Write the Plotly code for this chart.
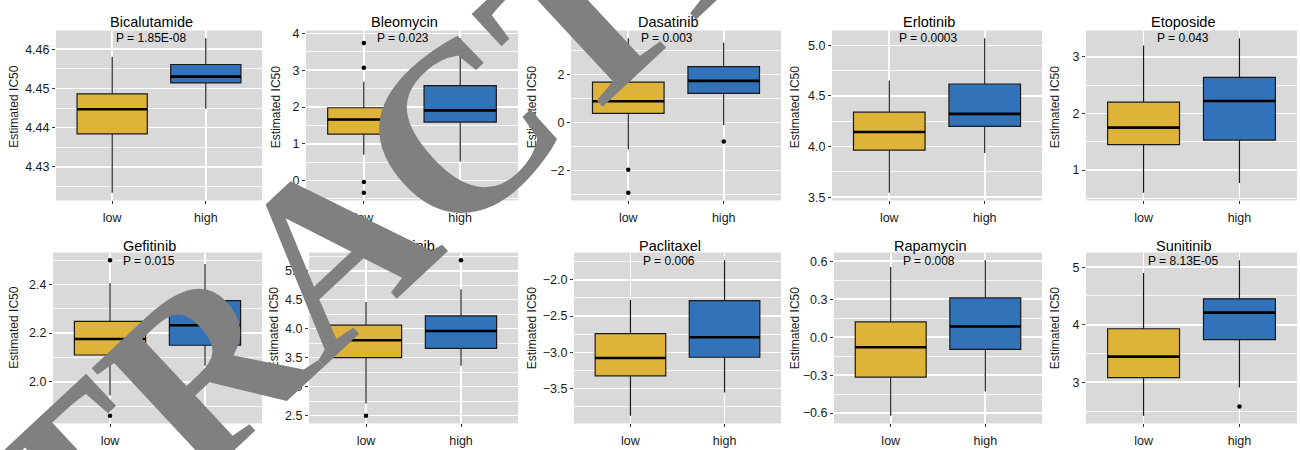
import plotly.graph_objects as go

drugs = ["Bicalutamide", "Bleomycin", "Dasatinib", "Erlotinib", "Etoposide",
         "Gefitinib", "Lapatinib", "Paclitaxel", "Rapamycin", "Sunitinib"]
p_labels = ["P = 1.85E-08", "P = 0.023", "P = 0.003", "P = 0.0003", "P = 0.043",
            "P = 0.015", "P = 0.024", "P = 0.006", "P = 0.008", "P = 8.13E-05"]
groups = ["low", "high"]

# "low" group box statistics
low_lowerfence = [4.4234, 0.70, -1.12, 3.544, 0.60, 1.945, 2.71, -3.873, -0.62, 2.42]
low_q1 = [4.4384, 1.265, 0.38, 3.965, 1.45, 2.110, 3.50, -3.324, -0.315, 3.08]
low_median = [4.4447, 1.66, 0.88, 4.144, 1.75, 2.176, 3.80, -3.077, -0.080, 3.445]
low_q3 = [4.4486, 1.98, 1.68, 4.34, 2.20, 2.248, 4.06, -2.743, 0.121, 3.93]
low_upperfence = [4.4581, 2.69, 3.50, 4.652, 3.20, 2.405, 4.46, -2.274, 0.554, 4.90]
low_outliers = [[], [3.74, 3.07, -0.04, -0.33], [-1.97, -2.92], [], [],
                [2.499, 1.861], [2.50], [], [], []]

# "high" group box statistics
high_lowerfence = [4.4448, 0.52, -0.11, 3.937, 0.77, 2.066, 3.36, -3.554, -0.43, 2.91]
high_q1 = [4.4514, 1.59, 1.21, 4.199, 1.53, 2.150, 3.66, -3.068, -0.096, 3.74]
high_median = [4.4530, 1.91, 1.73, 4.323, 2.22, 2.232, 3.96, -2.792, 0.085, 4.21]
high_q3 = [4.4561, 2.58, 2.32, 4.618, 2.64, 2.333, 4.22, -2.288, 0.31, 4.45]
high_upperfence = [4.4628, 3.87, 3.32, 5.07, 3.33, 2.484, 4.68, -1.73, 0.608, 5.12]
high_outliers = [[], [], [-0.79], [], [], [], [5.18], [], [], [2.58]]

tick_step = [0.01, 1, 2, 0.5, 1, 0.2, 0.5, 0.5, 0.3, 1]
tick_format = [".2f", "d", "d", ".1f", "d", ".1f", ".1f", ".1f", ".1f", "d"]

# ---------------- styling / layout ----------------
W, H = 1300, 450
colors = ["#DEB33A", "#3172B9"]
BOXW = 0.75
FONT = "Liberation Sans, Arial, sans-serif"

# panel pixel boxes
row_x = [[(56, 262), (306, 518), (571, 781), (832, 1042), (1086, 1297)],
         [(53, 262), (309, 518), (574, 781), (834, 1042), (1086, 1297)]]
row_y = [(27, 200), (253, 427)]
title_y = [18.3, 246]
plab_y = [35, 261.7]
ytitle_x = [[14.5, 276, 532, 795, 1055], [14.5, 274, 532, 795, 1055]]
ytitle_y = [105, 330]


def px_x(v):
    return v / W


def px_y(v):
    return 1 - v / H


fig = go.Figure()
layout = dict(
    width=W, height=H,
    margin=dict(l=0, r=0, t=0, b=0),
    paper_bgcolor="white",
    plot_bgcolor="#D9D9D9",
    showlegend=False,
    font=dict(family=FONT, color="#1a1a1a", size=12),
)
annotations = []

stats = [
    (low_lowerfence, low_q1, low_median, low_q3, low_upperfence, low_outliers),
    (high_lowerfence, high_q1, high_median, high_q3, high_upperfence, high_outliers),
]

for i, drug in enumerate(drugs):
    r, c = divmod(i, 5)
    ax = "" if i == 0 else str(i + 1)
    xa, ya = "x" + ax, "y" + ax
    allvals = []
    for g, (lf, q1, md, q3, uf, outs) in enumerate(stats):
        pos = g + 1
        allvals += [lf[i], uf[i]] + list(outs[i])
        fig.add_trace(go.Box(
            x=[pos], q1=[q1[i]], median=[md[i]], q3=[q3[i]],
            lowerfence=[lf[i]], upperfence=[uf[i]],
            width=BOXW, fillcolor=colors[g],
            line=dict(color="#1a1a1a", width=1.2),
            whiskerwidth=0, boxpoints=False,
            xaxis=xa, yaxis=ya, hoverinfo="skip",
        ))
        # thicker median line (as in ggplot2)
        fig.add_trace(go.Scatter(
            x=[pos - BOXW / 2, pos + BOXW / 2], y=[md[i], md[i]],
            mode="lines", line=dict(color="black", width=2.6),
            xaxis=xa, yaxis=ya, hoverinfo="skip",
        ))
        if outs[i]:
            fig.add_trace(go.Scatter(
                x=[pos] * len(outs[i]), y=outs[i], mode="markers",
                marker=dict(color="black", size=4.5),
                xaxis=xa, yaxis=ya, hoverinfo="skip",
            ))
    lo, hi = min(allvals), max(allvals)
    pad = (hi - lo) * 0.05
    x0, x1 = row_x[r][c]
    y0, y1 = row_y[r]
    step = tick_step[i]
    layout["xaxis" + ax] = dict(
        domain=[px_x(x0), px_x(x1)], anchor=ya, range=[0.4, 2.6],
        tickmode="array", tickvals=[1, 2], ticktext=groups,
        showgrid=True, gridcolor="white", gridwidth=1.6, zeroline=False,
        ticks="outside", ticklen=3, tickcolor="#333333", tickwidth=1,
        tickfont=dict(size=12.5, color="#1a1a1a"), ticklabelstandoff=3,
        fixedrange=True,
    )
    layout["yaxis" + ax] = dict(
        domain=[px_y(y1), px_y(y0)], anchor=xa, range=[lo - pad, hi + pad],
        tick0=0, dtick=step, tickformat=tick_format[i],
        showgrid=True, gridcolor="white", gridwidth=1.6, zeroline=False,
        ticks="outside", ticklen=3, tickcolor="#333333", tickwidth=1,
        tickfont=dict(size=12.5, color="#1a1a1a"),
        minor=dict(dtick=step / 2, tick0=0, showgrid=True, gridcolor="white",
                   gridwidth=0.8, ticklen=0),
        fixedrange=True,
    )
    # panel title
    annotations.append(dict(
        text=drug, xref=xa, yref="paper", x=1.42, y=px_y(title_y[r]),
        xanchor="center", yanchor="middle", showarrow=False,
        font=dict(size=14.5, color="black", family=FONT),
    ))
    # p-value label
    annotations.append(dict(
        text=p_labels[i], xref=xa, yref="paper", x=1.41, y=px_y(plab_y[r]),
        xanchor="center", yanchor="middle", showarrow=False,
        font=dict(size=12, color="black", family=FONT),
    ))
    # y-axis title
    annotations.append(dict(
        text="Estimated IC50", xref="paper", yref="paper",
        x=px_x(ytitle_x[r][c]), y=px_y(ytitle_y[r]),
        xanchor="center", yanchor="middle", textangle=-90, showarrow=False,
        font=dict(size=12, color="#1a1a1a", family=FONT),
    ))

# watermark
annotations.append(dict(
    text="<b>RETRACTED</b>", xref="paper", yref="paper",
    x=px_x(330), y=px_y(250), xanchor="center", yanchor="middle",
    textangle=-43, showarrow=False,
    font=dict(size=240, color="#808080", family="Liberation Serif, Times New Roman, serif"),
))

layout["annotations"] = annotations
fig.update_layout(**layout)
fig.write_html(
    "out.html",
    config={"displayModeBar": False, "staticPlot": True},
    post_script="document.body.style.margin='0';document.body.style.overflow='hidden';",
)
